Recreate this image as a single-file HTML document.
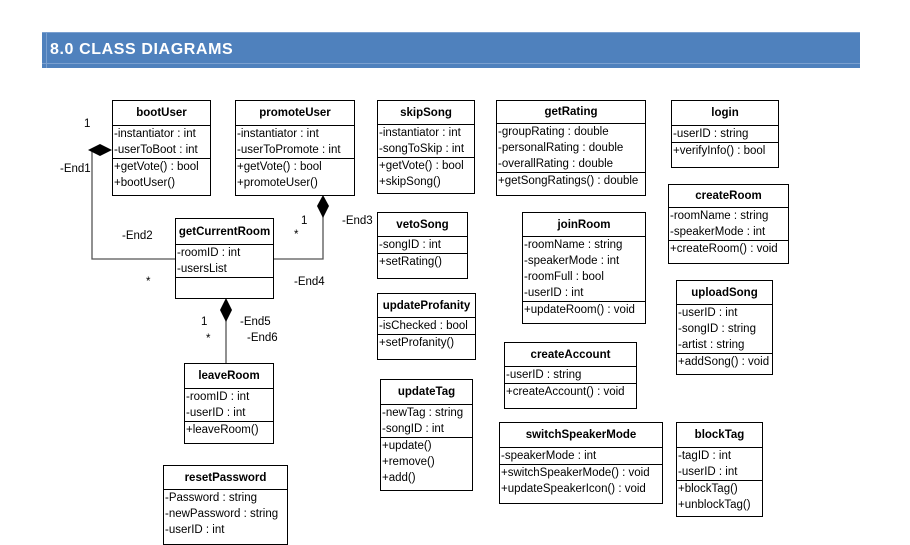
<!DOCTYPE html>
<html><head><meta charset="utf-8"><style>
body{margin:0;width:910px;height:530px;background:#fff;position:relative;overflow:hidden;font-family:"Liberation Sans",sans-serif;}
.hdr{position:absolute;left:42px;top:32px;width:818px;height:36px;background:#4f81bd;border-top:1px solid #7aa0d0;box-sizing:border-box;}
.hdr span{position:absolute;left:8px;top:8px;color:#fff;font-weight:bold;font-size:16px;letter-spacing:0.6px;}
.hdr:before{content:"";position:absolute;left:4px;top:0;bottom:0;border-left:1px solid #7aa0d0;}
.hdr:after{content:"";position:absolute;left:0;right:0;bottom:4px;border-top:1px solid #7aa0d0;}
.b{position:absolute;border:1.5px solid #000;box-sizing:border-box;background:#fff;font-size:11.5px;line-height:16px;color:#000;}
.b div{border-top:1px solid #000;padding-left:1px;white-space:nowrap;overflow:hidden;}
.b .t{border-top:none;font-weight:bold;text-align:center;display:flex;align-items:center;justify-content:center;padding:0;}
.l{position:absolute;font-size:11.5px;color:#000;}
svg{position:absolute;left:0;top:0;}
</style></head><body>
<div class="hdr"><span>8.0 CLASS DIAGRAMS</span></div>
<svg width="910" height="530">
<g stroke="#555" stroke-width="1.3" fill="none">
<polyline points="92,150 92,259 175,259"/>
<polyline points="323,215 323,259 273,259"/>
<line x1="226" y1="318" x2="226" y2="363"/>
</g>
<polygon points="88,150 100,144 112,150 100,156" fill="#000"/>
<polygon points="323,195 329,206 323,218 317,206" fill="#000"/>
<polygon points="226,298 232,310 226,322 220,310" fill="#000"/>
</svg>
<div class="l" style="left:84px;top:118px">1</div>
<div class="l" style="left:60px;top:163px">-End1</div>
<div class="l" style="left:122px;top:230px">-End2</div>
<div class="l" style="left:146px;top:276px">*</div>
<div class="l" style="left:301px;top:215px">1</div>
<div class="l" style="left:294px;top:229px">*</div>
<div class="l" style="left:342px;top:215px">-End3</div>
<div class="l" style="left:294px;top:276px">-End4</div>
<div class="l" style="left:201px;top:316px">1</div>
<div class="l" style="left:206px;top:333px">*</div>
<div class="l" style="left:240px;top:316px">-End5</div>
<div class="l" style="left:247px;top:332px">-End6</div>

<div class="b" style="left:112px;top:100px;width:99px;height:96px"><div class="t" style="height:24px">bootUser</div><div>-instantiator : int<br>-userToBoot : int</div><div>+getVote() : bool<br>+bootUser()</div></div>
<div class="b" style="left:235px;top:100px;width:120px;height:96px"><div class="t" style="height:24px">promoteUser</div><div>-instantiator : int<br>-userToPromote : int</div><div>+getVote() : bool<br>+promoteUser()</div></div>
<div class="b" style="left:377px;top:100px;width:98px;height:94px"><div class="t" style="height:23px">skipSong</div><div>-instantiator : int<br>-songToSkip : int</div><div>+getVote() : bool<br>+skipSong()</div></div>
<div class="b" style="left:496px;top:100px;width:150px;height:96px"><div class="t" style="height:22px">getRating</div><div>-groupRating : double<br>-personalRating : double<br>-overallRating : double</div><div>+getSongRatings() : double</div></div>
<div class="b" style="left:671px;top:100px;width:108px;height:68px"><div class="t" style="height:24px">login</div><div>-userID : string</div><div>+verifyInfo() : bool</div></div>
<div class="b" style="left:668px;top:184px;width:121px;height:80px"><div class="t" style="height:22px">createRoom</div><div>-roomName : string<br>-speakerMode : int</div><div>+createRoom() : void</div></div>
<div class="b" style="left:676px;top:280px;width:97px;height:95px"><div class="t" style="height:23px">uploadSong</div><div>-userID : int<br>-songID : string<br>-artist : string</div><div>+addSong() : void</div></div>
<div class="b" style="left:676px;top:422px;width:87px;height:95px"><div class="t" style="height:24px">blockTag</div><div>-tagID : int<br>-userID : int</div><div>+blockTag()<br>+unblockTag()</div></div>
<div class="b" style="left:499px;top:422px;width:164px;height:82px"><div class="t" style="height:24px">switchSpeakerMode</div><div>-speakerMode : int</div><div>+switchSpeakerMode() : void<br>+updateSpeakerIcon() : void</div></div>
<div class="b" style="left:504px;top:342px;width:133px;height:67px"><div class="t" style="height:23px">createAccount</div><div>-userID : string</div><div>+createAccount() : void</div></div>
<div class="b" style="left:522px;top:212px;width:124px;height:112px"><div class="t" style="height:23px">joinRoom</div><div>-roomName : string<br>-speakerMode : int<br>-roomFull : bool<br>-userID : int</div><div>+updateRoom() : void</div></div>
<div class="b" style="left:377px;top:212px;width:91px;height:67px"><div class="t" style="height:23px">vetoSong</div><div>-songID : int</div><div>+setRating()</div></div>
<div class="b" style="left:377px;top:293px;width:99px;height:67px"><div class="t" style="height:23px">updateProfanity</div><div>-isChecked : bool</div><div>+setProfanity()</div></div>
<div class="b" style="left:380px;top:379px;width:93px;height:112px"><div class="t" style="height:24px">updateTag</div><div>-newTag : string<br>-songID : int</div><div>+update()<br>+remove()<br>+add()</div></div>
<div class="b" style="left:175px;top:218px;width:99px;height:81px"><div class="t" style="height:25px">getCurrentRoom</div><div>-roomID : int<br>-usersList</div><div style="height:19px"></div></div>
<div class="b" style="left:184px;top:363px;width:90px;height:81px"><div class="t" style="height:24px">leaveRoom</div><div>-roomID : int<br>-userID : int</div><div>+leaveRoom()</div></div>
<div class="b" style="left:163px;top:465px;width:125px;height:80px"><div class="t" style="height:23px">resetPassword</div><div>-Password : string<br>-newPassword : string<br>-userID : int</div></div>
</body></html>
